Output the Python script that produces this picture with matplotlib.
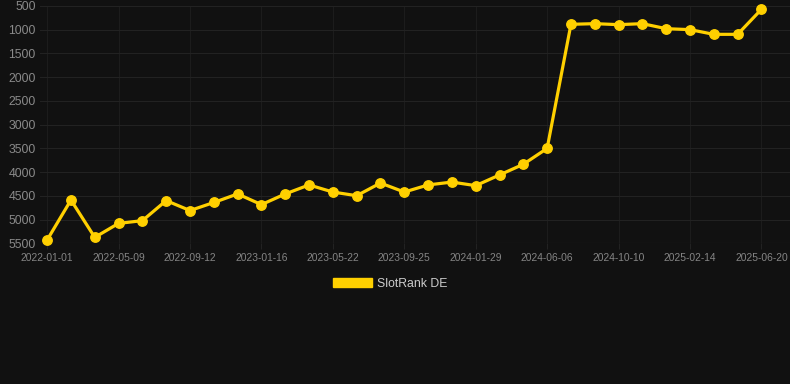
import matplotlib.pyplot as plt
from matplotlib.patches import Patch

plt.rcParams['font.family'] = ['Liberation Sans', 'DejaVu Sans']

# rank over time (lower is better), one point roughly every six weeks
rank = [5430, 4588, 5375, 5080, 5023, 4600, 4810, 4640, 4460, 4685,
        4460, 4270, 4420, 4497, 4230, 4420, 4270, 4210, 4285, 4060,
        3835, 3500, 886, 872, 893, 872, 978, 998, 1097, 1097, 570]
tick_labels = ['2022-01-01', '2022-05-09', '2022-09-12', '2023-01-16',
               '2023-05-22', '2023-09-25', '2024-01-29', '2024-06-06',
               '2024-10-10', '2025-02-14', '2025-06-20']
y_ticks = [500, 1000, 1500, 2000, 2500, 3000, 3500, 4000, 4500, 5000, 5500]

bg = '#111111'
gold = '#FFD000'

fig = plt.figure(figsize=(7.9, 3.84), dpi=100, facecolor=bg)
ax = fig.add_axes([40 / 790, 1 - 243.3 / 384, 1 - 40 / 790, (243.3 - 6) / 384])
ax.set_facecolor(bg)

x = list(range(len(rank)))
ax.plot(x, rank, color=gold, linewidth=2.3, marker='o', markersize=6.8,
        markerfacecolor=gold, markeredgecolor=gold, zorder=3, clip_on=False)

ax.set_ylim(5500, 500)
ax.set_xlim(-0.3, 31.2)
ax.set_yticks(y_ticks)
ax.set_yticklabels([str(v) for v in y_ticks])
ax.set_xticks(x[::3])
ax.set_xticklabels(tick_labels)

ax.grid(True, axis='y', color='#222222', linewidth=0.8)
ax.grid(True, axis='x', color='#1c1c1c', linewidth=0.8)
ax.tick_params(axis='y', colors='#8a8a8a', labelsize=8.8, length=0, pad=3)
ax.tick_params(axis='x', colors='#222222', labelcolor='#858585', labelsize=7.4,
               length=4, pad=3)
for s in ax.spines.values():
    s.set_visible(False)
ax.axhline(5500, color='#2c2c2c', linewidth=0.8)

handle = Patch(facecolor=gold, edgecolor=gold)
leg = fig.legend([handle], ['SlotRank DE'], loc='center',
                 bbox_to_anchor=(0.494, 1 - 284 / 384), frameon=False,
                 fontsize=8.8, handlelength=3.2, handleheight=0.75,
                 handletextpad=0.45)
for t in leg.get_texts():
    t.set_color('#cccccc')

fig.savefig('out.png', dpi=100, facecolor=bg)
